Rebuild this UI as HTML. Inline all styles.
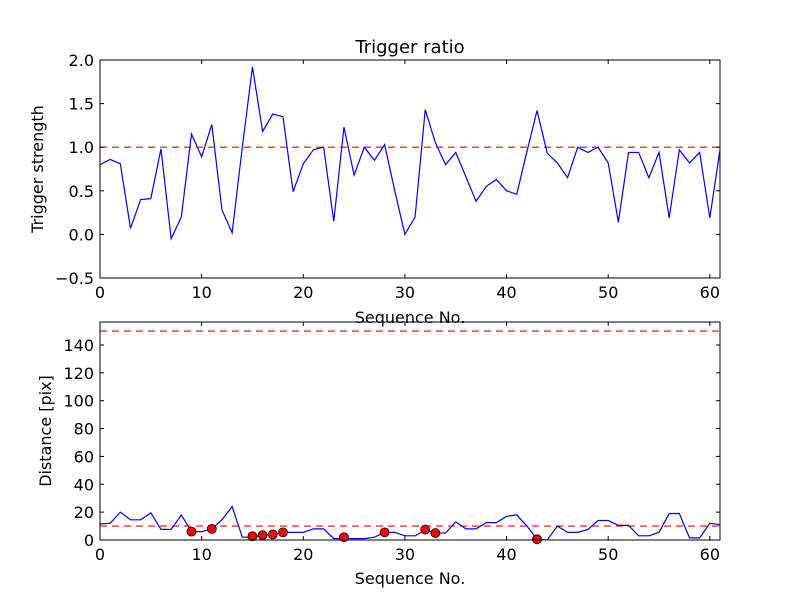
<!DOCTYPE html>
<html><head><meta charset="utf-8"><style>
html,body{margin:0;padding:0;background:#fff;}
svg{display:block;font-family:"DejaVu Sans","Liberation Sans",sans-serif;}
</style></head><body>
<svg id="chart" width="800" height="600" viewBox="0 0 800 600">
<rect width="800" height="600" fill="#fff"/>
<g id="top"></g>
<g id="bot"></g>
</svg>
<script>
const seqTop = Array.from({length:62},(_,i)=>i);
const triggerValues = [0.80,0.86,0.81,0.07,0.40,0.41,0.98,-0.05,0.20,1.15,0.89,1.26,0.28,0.02,1.0,1.92,1.18,1.38,1.35,0.49,0.81,0.97,1.0,0.15,1.23,0.68,1.0,0.85,1.03,0.5,0.0,0.2,1.43,1.05,0.8,0.94,0.66,0.38,0.55,0.63,0.5,0.46,0.95,1.42,0.93,0.82,0.65,1.0,0.94,1.0,0.82,0.14,0.94,0.94,0.65,0.94,0.19,0.97,0.82,0.94,0.19,0.97];
const distanceValues = [11.5,12,20,14.5,14.5,19.5,7.6,7.6,18,6,6,8,14.5,24,2,2,3.5,4,5.5,5.5,5.5,8,8,1,1,1,1,2,5.5,5.5,3,3,7,5,5,13,8,8,12.5,12.5,17,18,10,0.5,0,10,5.5,5.5,7.5,14,14,10.5,10.5,3,3,5.5,19,19,1.5,1.5,12,11];
const markerIdx = [9,11,15,16,17,18,24,28,32,33,43];
const markerVals = [6,8,2.7,3.5,4,5.5,2,5.5,7.5,5,0.5];
const topTicksY = [-0.5,0.0,0.5,1.0,1.5,2.0];
const botTicksY = [0,20,40,60,80,100,120,140];
const ticksX = [0,10,20,30,40,50,60];
const topThreshold = 1.0;
const botThresholds = [10,150];

const NS="http://www.w3.org/2000/svg";
function mk(parent,tag,attrs,text){const e=document.createElementNS(NS,tag);for(const k in attrs)e.setAttribute(k,attrs[k]);if(text!==undefined)e.textContent=text;parent.appendChild(e);return e;}

function panel(g,y0,y1,ymin,ymax,fmt,yticks){
  const X0=100,X1=720;
  const sx=v=>X0+(v-0)/(61-0)*(X1-X0);
  const sy=v=>y1-(v-ymin)/(ymax-ymin)*(y1-y0);
  const clip=mk(g,'clipPath',{id:'c'+y0});
  mk(clip,'rect',{x:X0,y:y0,width:X1-X0,height:y1-y0});
  return {sx,sy,X0,X1,y0,y1,yticks,fmt,clipId:'c'+y0};
}
function axesFrame(g,p,prefix){
  const fr=mk(g,'rect',{x:p.X0,y:p.y0,width:p.X1-p.X0,height:p.y1-p.y0,fill:'none',stroke:'#000','stroke-width':1});
  
  
  ticksX.forEach(t=>{
    const x=p.sx(t);
    mk(g,'line',{x1:x,x2:x,y1:p.y1,y2:p.y1-4,stroke:'#000'});
    mk(g,'line',{x1:x,x2:x,y1:p.y0,y2:p.y0+4,stroke:'#000'});
    const tl=mk(g,'text',{x:x,y:p.y1+20,'text-anchor':'middle','font-size':16},String(t));
    
    
  });
  p.yticks.forEach(t=>{
    const y=p.sy(t);
    mk(g,'line',{x1:p.X0,x2:p.X0+4,y1:y,y2:y,stroke:'#000'});
    mk(g,'line',{x1:p.X1,x2:p.X1-4,y1:y,y2:y,stroke:'#000'});
    const tl=mk(g,'text',{x:p.X0-6,y:y+6,'text-anchor':'end','font-size':16},p.fmt(t));
    
    
  });
}
function series(g,p,xs,ys,name){
  const d=xs.map((x,i)=>(i?'L':'M')+p.sx(x).toFixed(2)+','+p.sy(ys[i]).toFixed(2)).join('');
  const l=mk(g,'path',{d:d,fill:'none',stroke:'#0000ff','stroke-width':1.2,'clip-path':'url(#'+p.clipId+')'});
  
  
}
function hline(g,p,v,name){
  const l=mk(g,'line',{x1:p.X0,x2:p.X1,y1:p.sy(v),y2:p.sy(v),stroke:'#ff0000','stroke-width':1.2,'stroke-dasharray':'7,5'});
  
  
}

const gt=document.getElementById('top');
const pt=panel(gt,60,278,-0.5,2.0,v=>v<0?'\u22120.5':v.toFixed(1),topTicksY);
hline(gt,pt,topThreshold,'threshold-line');
series(gt,pt,seqTop,triggerValues,'trigger-strength-line');
axesFrame(gt,pt,'top');
let t=mk(gt,'text',{x:410,y:53,'text-anchor':'middle','font-size':18},'Trigger ratio');

t=mk(gt,'text',{x:410,y:323,'text-anchor':'middle','font-size':16},'Sequence No.');

t=mk(gt,'text',{x:0,y:0,'text-anchor':'middle','font-size':16,transform:'translate(43,169) rotate(-90)'},'Trigger strength');


const gb=document.getElementById('bot');
const pb=panel(gb,322,540,0,156.5,v=>String(v),botTicksY);
hline(gb,pb,botThresholds[0],'lower-threshold-line');
hline(gb,pb,botThresholds[1],'upper-threshold-line');
series(gb,pb,seqTop,distanceValues,'distance-line');
markerIdx.forEach((xi,i)=>{
  const c=mk(gb,'circle',{cx:pb.sx(xi),cy:pb.sy(markerVals[i]),r:4.5,fill:'#ff0000',stroke:'#000','stroke-width':0.8});
  
  
});
axesFrame(gb,pb,'bottom');
t=mk(gb,'text',{x:410,y:584,'text-anchor':'middle','font-size':16},'Sequence No.');

t=mk(gb,'text',{x:0,y:0,'text-anchor':'middle','font-size':16,transform:'translate(51,431) rotate(-90)'},'Distance [pix]');

</script>
</body></html>
